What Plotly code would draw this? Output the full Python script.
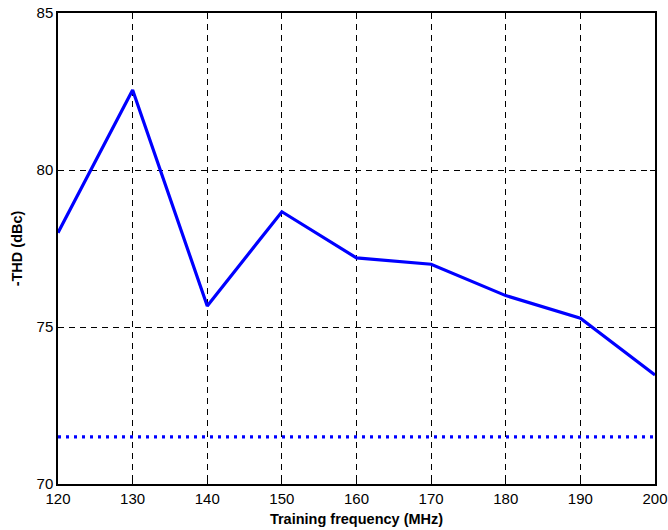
import plotly.graph_objects as go

# Training frequency sweep (MHz) and measured -THD (dBc)
freq_mhz = [120, 130, 140, 150, 160, 170, 180, 190, 200]
neg_thd_dbc = [78.0, 82.55, 75.67, 78.67, 77.2, 77.0, 76.0, 75.28, 73.47]

# Reference level (untrained), flat across the sweep
ref_freq = [120, 200]
ref_level = [71.5, 71.5]

x_ticks = [120, 130, 140, 150, 160, 170, 180, 190, 200]
y_ticks = [70, 75, 80, 85]

FONT = "Liberation Sans, Arial, sans-serif"

fig = go.Figure()
fig.add_trace(go.Scatter(
    x=freq_mhz, y=neg_thd_dbc, mode="lines",
    line=dict(color="#0000ff", width=3.2),
    showlegend=False,
))
fig.add_trace(go.Scatter(
    x=ref_freq, y=ref_level, mode="lines",
    line=dict(color="#0000ff", width=3.2, dash="3px,5px"),
    showlegend=False,
))

axis_common = dict(
    showline=True, linecolor="black", linewidth=1.5, mirror="ticks",
    ticks="inside", ticklen=5, tickcolor="black", tickwidth=1,
    showgrid=True, gridcolor="black", gridwidth=1, griddash="6px,5px",
    zeroline=False, automargin=False,
    tickfont=dict(family=FONT, size=15, color="black"),
)

fig.update_xaxes(
    range=[120, 200], tickmode="array", tickvals=x_ticks,
    title=dict(text="<b>Training frequency (MHz)</b>", standoff=8,
               font=dict(family=FONT, size=14.5, color="black")),
    **axis_common,
)
fig.update_yaxes(
    range=[70, 85], tickmode="array", tickvals=y_ticks,
    title=dict(text="<b>-THD (dBc)</b>", standoff=10,
               font=dict(family=FONT, size=14.5, color="black")),
    **axis_common,
)

fig.update_layout(
    width=668, height=530,
    margin=dict(l=58, r=13, t=13, b=46),
    paper_bgcolor="white", plot_bgcolor="white",
)

fig.write_html("out.html")
